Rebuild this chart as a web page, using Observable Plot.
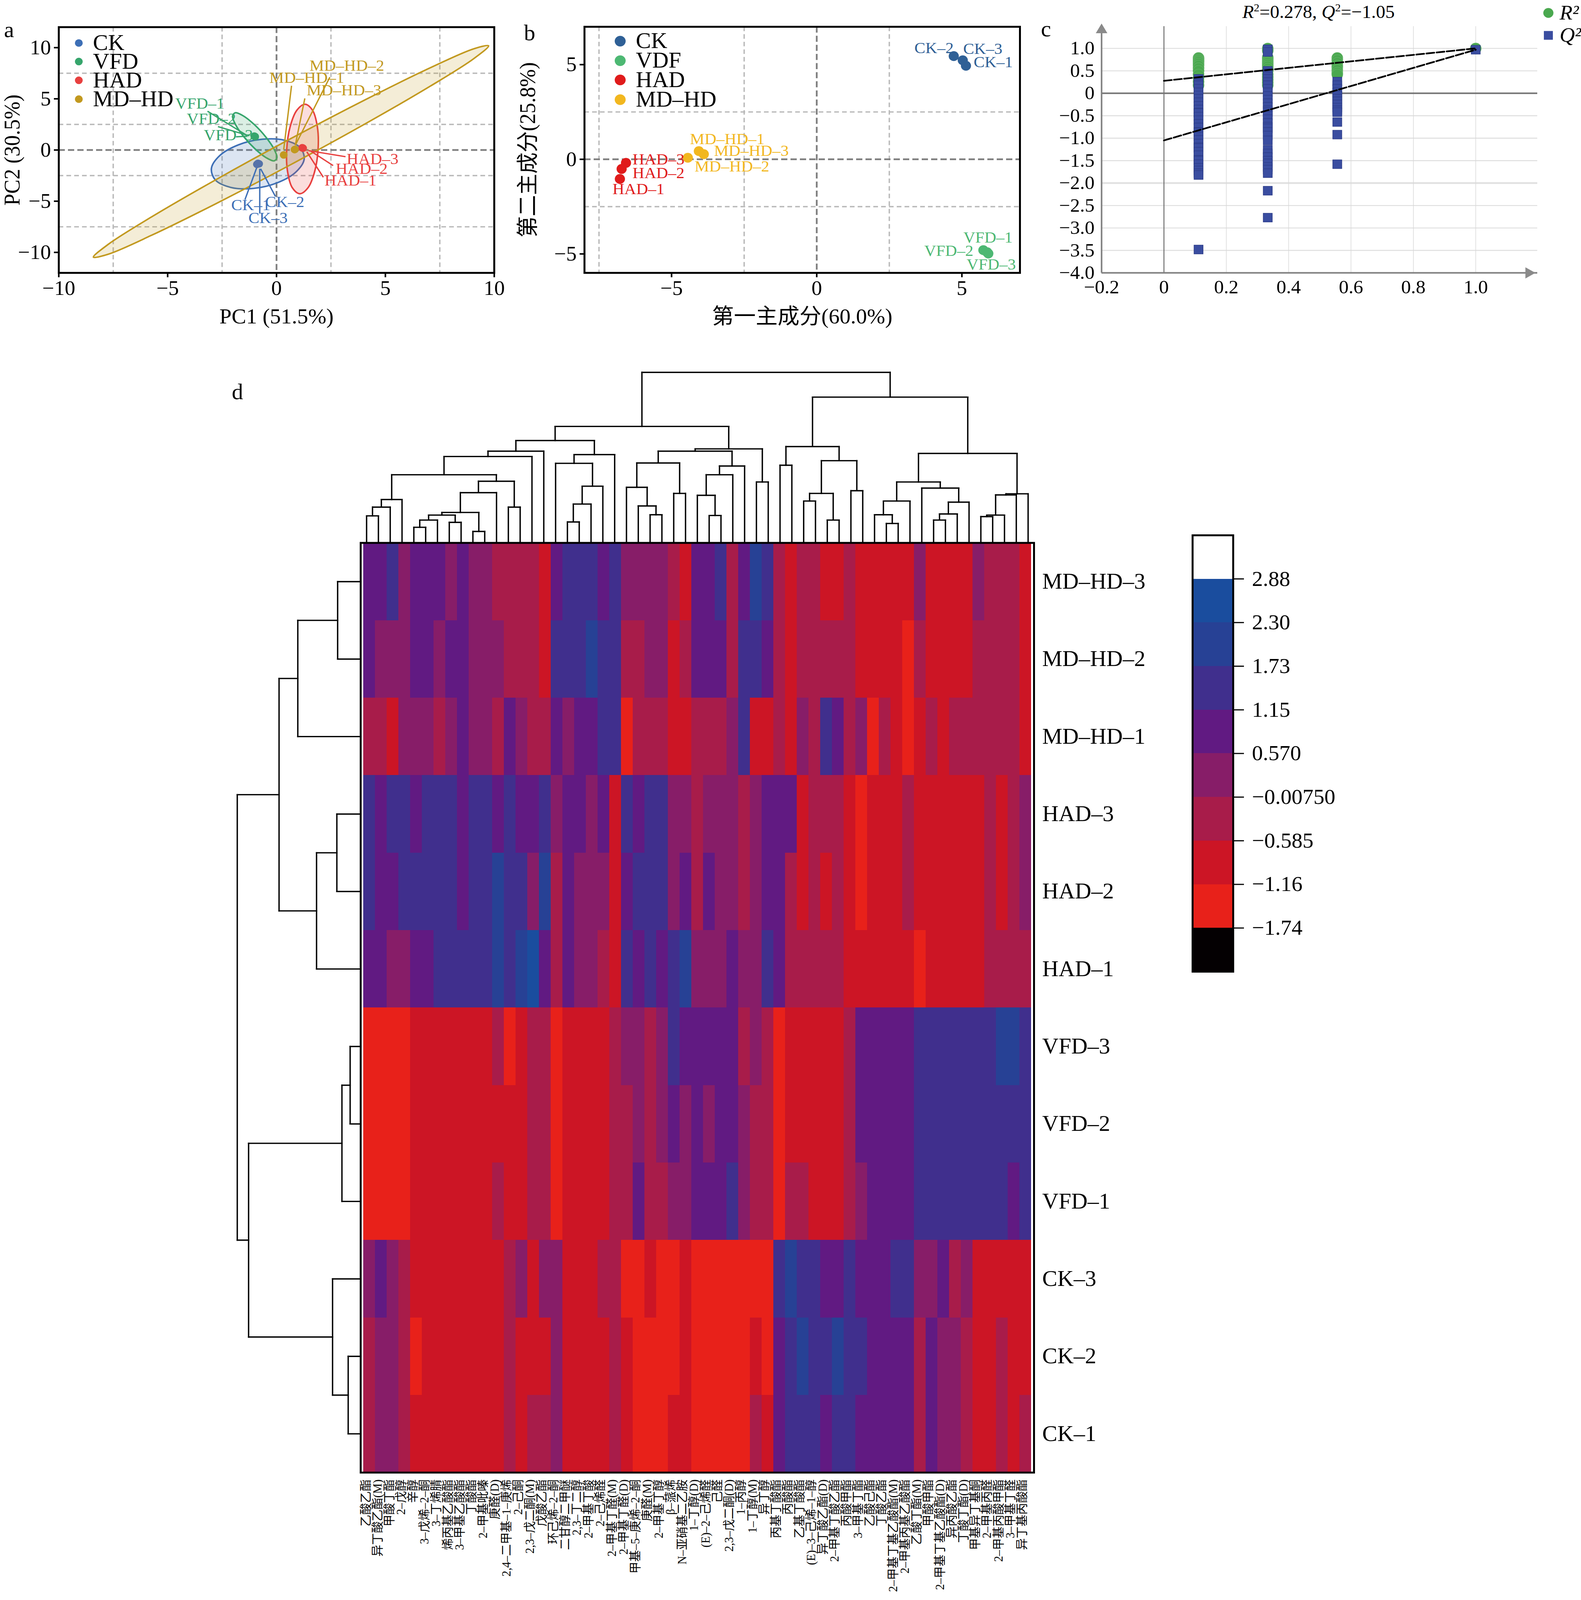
<!DOCTYPE html>
<html>
<head>
<meta charset="utf-8">
<script src="https://cdn.jsdelivr.net/npm/d3@7"></script>
<script src="https://cdn.jsdelivr.net/npm/@observablehq/plot@0.6"></script>
<style>
html,body{margin:0;padding:0;background:#fff}
#viewport{position:relative;width:4048px;overflow:hidden;background:#fff}
#page{position:absolute;left:0;top:0;width:4048px;height:4213px;overflow:hidden;background:#fff;font-family:"Liberation Serif","Noto Sans CJK SC",serif;color:#000;transform-origin:0 0}
.tag{position:absolute;transform:translate(-50%,-50%);font-size:58px;line-height:1}
.title{position:absolute;transform:translate(-50%,-50%);font-size:48px;line-height:1;white-space:nowrap}
.title sup{font-size:.6em;line-height:0}
</style>
</head>
<body>
<div id="viewport"><div id="page"></div></div>
<script>
// ---------- panel a ----------
const aGroups = ["CK","VFD","HAD","MD–HD"];
const aColors = ["#3d6fb6","#36a56c","#e8403f","#c2991f"];
const aDotColors = ["#5572a9","#36a56c","#e8403f","#c2991f"];
const aEllipseCK = [[1.27,-.90],[1.085,.24],[.378,.953],[-.66,1.05],[-1.752,.503],[-2.605,-.54],[-2.99,-1.80],[-2.805,-2.94],[-2.098,-3.653],[-1.06,-3.75],[.032,-3.203],[.885,-2.16]];
const aEllipseVFD = [[-1.89,3.64],[-1.52,3.325],[-1.01,2.465],[-.5,1.29],[-.12,.115],[.02,-.745],[-.11,-1.06],[-.479,-.745],[-.988,.115],[-1.5,1.29],[-1.878,2.465],[-2.021,3.325]];
const aEllipseHAD = [[1.31,4.47],[1.654,3.884],[1.874,2.285],[1.91,.1],[1.754,-2.085],[1.446,-3.684],[1.07,-4.27],[.726,-3.684],[.506,-2.085],[.47,.1],[.626,2.285],[.934,3.884]];
const aEllipseMD = [[9.74,10.18],[9.05,9.88],[7.08,8.05],[4.14,4.98],[.665,1.125],[-2.81,-2.93],[-5.75,-6.55],[-7.72,-9.20],[-8.41,-10.47],[-7.72,-10.17],[-5.75,-8.34],[-2.81,-5.27],[.665,-1.415],[4.14,2.64],[7.08,6.26],[9.05,8.91]];
const aEllipses = [aEllipseCK,aEllipseVFD,aEllipseHAD,aEllipseMD];
const aSamples = ["CK–1","CK–2","CK–3","VFD–1","VFD–2","VFD–3","HAD–1","HAD–2","HAD–3","MD–HD–1","MD–HD–2","MD–HD–3"];
const aSampleGroup = [0,0,0,1,1,1,2,2,2,3,3,3];
const aPC1 = [-.9,-.8,-.85,-1.0,-1.02,-.98,1.2,1.22,1.18,.33,.83,.85];
const aPC2 = [-1.4,-1.35,-1.3,1.33,1.36,1.3,.2,.18,.22,-.48,.04,.06];
const aLabelX = [-1.18,.38,-.39,-3.52,-2.99,-2.21,3.40,3.91,4.41,1.39,3.23,3.10];
const aLabelY = [-5.37,-5.06,-6.62,4.56,3.06,1.46,-2.98,-1.81,-.89,7.08,8.24,5.83];
const aLeaderX1 = [-1.45,-.05,-.77,-3.17,-2.69,-1.86,2.15,2.6,3.17,.69,2.45,1.3];
const aLeaderY1 = [-4.85,-4.54,-6.2,3.79,2.29,1.29,-2.66,-1.52,-.65,6.28,7.12,5.04];
const aLeaderX2 = [-.91,-.73,-.77,-1.33,-1.25,-1.33,1.39,1.54,1.47,.33,.86,.86];
const aLeaderY2 = [-1.73,-1.83,-1.83,1.39,1.39,1.35,-.17,-.06,-.06,.04,.46,.46];
const aLegendY = [10.45,8.64,6.81,4.97];

// ---------- panel b ----------
const bGroups = ["CK","VDF","HAD","MD–HD"];
const bColors = ["#2f6096","#4db873","#e01b1b","#f2b71f"];
const bSamples = ["CK–1","CK–2","CK–3","VFD–1","VFD–2","VFD–3","HAD–1","HAD–2","HAD–3","MD–HD–1","MD–HD–2","MD–HD–3"];
const bSampleGroup = [0,0,0,1,1,1,2,2,2,3,3,3];
const bPC1 = [5.14,4.72,5.03,5.87,5.74,5.91,-6.78,-6.72,-6.57,-4.06,-4.44,-3.89];
const bPC2 = [4.94,5.45,5.23,-4.91,-4.80,-4.98,-1.04,-.51,-.19,.43,.08,.27];
const bLabelX = [6.08,4.04,5.72,5.90,4.55,6.01,-6.14,-5.45,-5.45,-3.08,-2.92,-2.25];
const bLabelY = [5.14,5.88,5.83,-4.12,-4.84,-5.56,-1.58,-.73,0,1.08,-.38,.46];
const bLegendY = [6.24,5.21,4.19,3.15];

// ---------- panel c ----------
const cPermX = [0.111,0.333,0.556,1.0];
const cR2_111 = [.79,.76,.73,.70,.66,.62,.56,.50,.42,.34,.26,.18];
const cR2_333 = [1.0,.95,.80,.76,.72,.68,.64,.60,.55,.50,.42,.36,.30,.24,.18];
const cR2_556 = [.79,.74,.68,.62,.58,.52,.46,.42];
const cR2_100 = [1.0];
const cQ2_111 = [.32,.22,.18,.10,.02,-.05,-.12,-.20,-.28,-.36,-.43,-.44,-.52,-.60,-.68,-.76,-.86,-.87,-.96,-1.04,-1.12,-1.20,-1.22,-1.30,-1.38,-1.48,-1.50,-1.58,-1.66,-1.72,-1.78,-1.82,-3.48];
const cQ2_333 = [.98,.92,.50,.45,.38,.32,.25,.18,.10,.02,-.06,-.14,-.22,-.30,-.38,-.42,-.50,-.58,-.66,-.74,-.78,-.86,-.94,-1.05,-1.26,-1.34,-1.42,-1.50,-1.56,-1.64,-1.70,-1.78,-2.17,-2.77];
const cQ2_556 = [.26,.18,.10,.02,-.05,-.12,-.18,-.25,-.32,-.38,-.42,-.64,-.92,-1.58];
const cQ2_100 = [.97];
const cR2Fit = [[0,.278],[1,1]];
const cQ2Fit = [[0,-1.05],[1,.97]];

// ---------- panel d ----------
const rowNames = ["MD–HD–3","MD–HD–2","MD–HD–1","HAD–3","HAD–2","HAD–1","VFD–3","VFD–2","VFD–1","CK–3","CK–2","CK–1"];
const colNames = ["乙酸乙酯","异丁酸乙酯(M)","甲酸丁酯","2–戊醇","辛醇","3–戊烯–2–酮","3–丁烯腈","烯丙基乙酸酯","3–甲基乙酸酯","丁酸酯","2–甲基吡嗪","庚醛(D)","2,4–二甲基–1–庚烯","2–己酮","2,3–戊二酮(M)","戊酸乙酯","环己烯–2–酮","二甘醇二甲醚","2,3–丁二醇","2–甲基丁酸","2–己烯醛","2–甲基丁醛(M)","2–甲基丁醛(D)","甲基–5–庚烯–2–酮","庚醛(M)","2–甲基丁醇","β–蒎烯","N–亚硝基二乙胺","1–丁醇(D)","(E)–2–己烯醛","己醛","2,3–戊二酮(D)","1–丙醇","1–丁醇(M)","异丁醇","丙基丁酸酯","丙酸酯","乙基丁酸酯","(E)–3–己烯–1–醇","异丁酸乙酯(D)","2–甲基丁酸乙酯","丙酸甲酯","3–甲基丁酯","乙酸己酯","丁酸乙酯","2–甲基丁基乙酸酯(M)","2–甲基丙基乙酸酯","乙酸丁酯(M)","甲酸甲酯","2–甲基丁基乙酸酯(D)","异丙酸乙酯","丁酸丁酯(D)","甲基异丁基酮","2–甲基丙醛","2–甲基丙酸甲酯","3–甲基丁醛","异丁基丙酸酯"];
// band index of each cell (0 = brightest red … 7 = brightest blue)
const rowMD3  = "44534443433 2222 1 4 555 4 5 3333 2 1 4 4 5 2 4 6 5 2 1 22 11 2 11111 3 1111 3 222 1";
const rowMD2  = "4 333 44 3 44 333 222 1 555 6 55 22 33 1 2 4 44 2 55 4 2 1 22222 1111 0 2 1111 2222 1";
const rowMD1  = "22 1 333 2 3 4 33 2 4 3 22 4 3 44 55 0 222 11 2 22 3 5 11 2 1 3 2 5 4 2 3 0 2 1 0 1 2 1 222222 1";
const rowHAD3 = "5 4 55 4 555 4 55 4 5 44 5 3 44 3 4 1 5 4 55 33 2 333 2 3 444 1 222 1 0 111 2 111111 2 1 2 3";
const rowHAD2 = "5 44 55555 4 55 6 55 3 6 2 4 333 1 4 555 3 4 2 4 33 2 3 44 2 1 2 1 2 1 0 111 2 111111 2 1 2 3";
const rowHAD1 = "44 33 44 55555 6 5 6 7 4 2 4 33 2 1 5 4 5 4 5 6 3 33 4 33 5 4 22222 111111 0 11111 2222";
const rowVFD3 = "0000 1111111 2 0 1 22 0 1111 2 33 2 3 5 44 444 2 3 2 0 11111 2 44444 5555555 66 5";
const rowVFD2 = "0000 1111111111 22 0 1111 22 3 2 3 4 3 4 3 44 3 22 0 11111 2 44444 5555555555";
const rowVFD1 = "0000 1111111 2 11 22 0 1111 22 4 22 33 4 44 5 3 22 0 22 111 2 3 4444 55555555 4 5";
const rowCK3  = "3 4 3 2 11111111 2 3 1 33 111 22 00 1 00 1 0 000000 5 6 55 44 5 444 55 33 4 2 3 11111";
const rowCK2  = "2 33 2 0 1111111 2 111 3 1111 2 1 0000 1 0 0000 1 0 4 5 6 55 6 55 4444 2 4 33 2 11 2 11";
const rowCK1  = "2 33 2 11111111 2 1 22 3 1111 2 1 000 11 0 0000 2 1 4 555 4 55 44444 2 4 33 2 11 2 1 2";
const heatRows = [rowMD3,rowMD2,rowMD1,rowHAD3,rowHAD2,rowHAD1,rowVFD3,rowVFD2,rowVFD1,rowCK3,rowCK2,rowCK1];
const bandValues = [-1.45,-0.87,-0.30,0.28,0.86,1.44,2.01,2.59];
const colorTicks = [-1.74,-1.16,-0.585,-0.0075,0.57,1.15,1.73,2.30,2.88];
const colorTickLabels = ["−1.74","−1.16","−0.585","−0.00750","0.570","1.15","1.73","2.30","2.88"];
const colorRange = ["#040002","#e8211a","#cc1525","#a81c4a","#871d68","#611a82","#402f8d","#274195","#1a4d9e","#ffffff"];
const barValues = [-2,-1.45,-0.87,-0.30,0.28,0.86,1.44,2.01,2.59,3.2];
// dendrograms: [height, left, right]; a bare number is a leaf
const colTree = [447,
  [305,
    [268,
      [240,[226,[178,[113,[93,[70,0,1],2],3],[161,[131,[79,[72,[59,[40,4,5],6],[53,7,8]],[29,9,10]],11],[93,12,13]]],14],15],
      [231,[208,16,[148,[101,[54,17,18],19],20]],21]],
    [246,
      [240,[209,[145,22,[96,23,[73,24,25]]],[129,26,27]],[201,[178,[124,28,[71,29,30]],31],32]],
      [159,33,34]]],
  [382,
    [252,[203,35,36],[215,[129,[109,37,38],[59,39,40]],[136,41,42]]],
    [234,
      [159,[109,[73,43,[50,44,45]],46],[143,47,[106,[75,[59,48,49],50],51]]],
      [128,[125,[72,[68,52,53],54],55],56]]]];
const rowTree = [316,
  [209,[161,[59,0,1],2],[113,[61,3,4],5]],
  [287,[48,[27,6,7],8],[72,9,[32,10,11]]]];

// ---------- helpers ----------
const fontStack = '"Liberation Serif","Noto Sans CJK SC",serif';
const page = document.getElementById("page");
// the browser window can be shorter than the 4213px chart: fit the whole chart into what is visible
const fit = Math.min(1, window.innerHeight / 4213);
document.getElementById("viewport").style.height = (4213 * fit) + "px";
page.style.transform = "scale(1," + fit + ")";
const signed = d => String(d).replace("-","−");
function place(left, top, options) {
  const svg = Plot.plot({
    ...options,
    style: {position:"absolute", left:left+"px", top:top+"px", background:"transparent", fontFamily:fontStack, maxWidth:"none", overflow:"hidden"}
  });
  page.appendChild(svg);
  return svg;
}
function tag(text, x, y) {
  const d = document.createElement("div");
  d.className = "tag"; d.textContent = text;
  d.style.left = x+"px"; d.style.top = y+"px";
  page.appendChild(d);
}
function segments(node) {
  const out = [];
  (function walk(n) {
    if (typeof n === "number") return {x:n+.5, h:0};
    const [h,l,r] = n;
    const a = walk(l), b = walk(r);
    out.push({a1:a.x,b1:h,a2:b.x,b2:h},{a1:a.x,b1:h,a2:a.x,b2:a.h},{a1:b.x,b1:h,a2:b.x,b2:b.h});
    return {x:(a.x+b.x)/2, h};
  })(node);
  return out;
}
const gridDash = "12,8";
function pcaGrid(xs, ys) {
  return [
    Plot.ruleX(xs, {stroke:"#b9b9b9", strokeWidth:3.5, strokeDasharray:gridDash}),
    Plot.ruleY(ys, {stroke:"#b9b9b9", strokeWidth:3.5, strokeDasharray:gridDash}),
    Plot.ruleX([0], {stroke:"#808080", strokeWidth:4.5, strokeDasharray:"16,8"}),
    Plot.ruleY([0], {stroke:"#808080", strokeWidth:4.5, strokeDasharray:"16,8"})
  ];
}

// ---------- panel a ----------
const aTable = aSamples.map((name,i)=>({name,g:aSampleGroup[i],x:aPC1[i],y:aPC2[i],lx:aLabelX[i],ly:aLabelY[i],x1:aLeaderX1[i],y1:aLeaderY1[i],x2:aLeaderX2[i],y2:aLeaderY2[i]}));
place(0,0,{
  width:1320,height:880,marginLeft:150,marginRight:55,marginTop:71,marginBottom:162,
  x:{domain:[-10,10]},y:{domain:[-12,12]},
  marks:[
    ...pcaGrid([-7.5,-2.5,2.5,7.5],[-7.5,-2.5,2.5,7.5]),
    ...aEllipses.map((e,i)=>Plot.line(e,{x:d=>d[0],y:d=>d[1],curve:"catmull-rom-closed",stroke:aColors[i],strokeWidth:4,fill:aColors[i],fillOpacity:.18})),
    Plot.link(aTable,{x1:"x1",y1:"y1",x2:"x2",y2:"y2",stroke:d=>aColors[d.g],strokeWidth:3.5}),
    Plot.dot(aTable,{x:"x",y:"y",r:10,fill:d=>aDotColors[d.g]}),
    Plot.text(aTable,{x:"lx",y:"ly",text:"name",fill:d=>aColors[d.g],fontSize:42}),
    Plot.dot(aGroups,{x:()=>-9.08,y:(d,i)=>aLegendY[i],r:10,fill:(d,i)=>aColors[i]}),
    Plot.text(aGroups,{x:()=>-8.43,y:(d,i)=>aLegendY[i],text:d=>d,textAnchor:"start",fontSize:58,fill:"#000"}),
    Plot.axisX({ticks:[-10,-5,0,5,10],tickFormat:signed,tickSize:12,tickPadding:8,fontSize:54,strokeWidth:4,label:null}),
    Plot.axisY({ticks:[-10,-5,0,5,10],tickFormat:signed,tickSize:12,tickPadding:8,fontSize:54,strokeWidth:4,label:null}),
    Plot.text(["PC1 (51.5%)"],{frameAnchor:"bottom",lineAnchor:"middle",dy:115,fontSize:56,fill:"#000"}),
    Plot.text(["PC2 (30.5%)"],{frameAnchor:"left",textAnchor:"middle",dx:-118,rotate:-90,fontSize:56,fill:"#000"}),
    Plot.frame({stroke:"#000",strokeWidth:5})
  ]
});

// ---------- panel b ----------
const bTable = bSamples.map((name,i)=>({name,g:bSampleGroup[i],x:bPC1[i],y:bPC2[i],lx:bLabelX[i],ly:bLabelY[i]}));
place(1300,0,{
  width:1350,height:880,marginLeft:196,marginRight:39,marginTop:70,marginBottom:162,
  x:{domain:[-8,7]},y:{domain:[-6,7]},
  marks:[
    ...pcaGrid([-7.5,-2.5,2.5],[-2.5,2.5]),
    Plot.dot(bTable,{x:"x",y:"y",r:13,fill:d=>bColors[d.g]}),
    Plot.text(bTable,{x:"lx",y:"ly",text:"name",fill:d=>bColors[d.g],fontSize:42}),
    Plot.dot(bGroups,{x:()=>-6.77,y:(d,i)=>bLegendY[i],r:14,fill:(d,i)=>bColors[i]}),
    Plot.text(bGroups,{x:()=>-6.23,y:(d,i)=>bLegendY[i],text:d=>d,textAnchor:"start",fontSize:58,fill:"#000"}),
    Plot.axisX({ticks:[-5,0,5],tickFormat:signed,tickSize:12,tickPadding:8,fontSize:54,strokeWidth:4,label:null}),
    Plot.axisY({ticks:[-5,0,5],tickFormat:signed,tickSize:12,tickPadding:8,fontSize:54,strokeWidth:4,label:null}),
    Plot.text(["第一主成分(60.0%)"],{frameAnchor:"bottom",lineAnchor:"middle",dy:115,fontSize:56,fill:"#000"}),
    Plot.text(["第二主成分(25.8%)"],{frameAnchor:"left",textAnchor:"middle",dx:-144,rotate:-90,fontSize:56,fill:"#000"}),
    Plot.frame({stroke:"#000",strokeWidth:5})
  ]
});

// ---------- panel c ----------
const toPts = (x,ys)=>ys.map(y=>({x,y}));
const cR2 = [...toPts(cPermX[0],cR2_111),...toPts(cPermX[1],cR2_333),...toPts(cPermX[2],cR2_556),...toPts(cPermX[3],cR2_100)];
const cQ2 = [...toPts(cPermX[0],cQ2_111),...toPts(cPermX[1],cQ2_333),...toPts(cPermX[2],cQ2_556),...toPts(cPermX[3],cQ2_100)];
const cFmt = d => d===0 ? "0" : d.toFixed(1).replace("-","−");
place(2640,0,{
  width:1408,height:880,marginLeft:180,marginRight:112,marginTop:69,marginBottom:162,
  x:{domain:[-.2,1.198]},y:{domain:[-4,1.49]},
  marks:[
    Plot.ruleY([-3.5,-3,-2.5,-1.5,-1,-.5,.5,1],{stroke:"#dedede",strokeWidth:2.5}),
    Plot.ruleY([-2],{stroke:"#e2e2e2",strokeWidth:5}),
    Plot.ruleX([.2,.4,.6,.8,1],{stroke:"#d8d8d8",strokeWidth:1.5}),
    Plot.ruleX([0],{stroke:"#707070",strokeWidth:2.5}),
    Plot.ruleY([0],{stroke:"#757575",strokeWidth:4}),
    Plot.ruleX([-.2],{stroke:"#808080",strokeWidth:4}),
    Plot.ruleY([-4],{stroke:"#808080",strokeWidth:4}),
    Plot.dot([[-.2,1.41]],{x:d=>d[0],y:d=>d[1],symbol:"triangle",r:11,fill:"#8a8a8a"}),
    Plot.dot([[1.17,-4]],{x:d=>d[0],y:d=>d[1],symbol:"triangle",r:11,rotate:90,fill:"#8a8a8a"}),
    Plot.dot(cR2,{x:"x",y:"y",r:14,fill:"#4aa84f",stroke:"#5fb163",strokeWidth:1.5}),
    Plot.dot(cQ2,{x:"x",y:"y",symbol:"square",r:13,fill:"#3a4da0",stroke:"#2d3d88",strokeWidth:1.5}),
    Plot.line(cR2Fit,{x:d=>d[0],y:d=>d[1],stroke:"#000",strokeWidth:4.5,strokeDasharray:"20,6"}),
    Plot.line(cQ2Fit,{x:d=>d[0],y:d=>d[1],stroke:"#000",strokeWidth:4.5,strokeDasharray:"20,6"}),
    Plot.dot(["R²"],{x:()=>1.233,y:()=>1.79,r:13,fill:"#4aa84f"}),
    Plot.dot(["Q²"],{x:()=>1.233,y:()=>1.29,symbol:"square",r:13,fill:"#3a4da0"}),
    Plot.text(["R²"],{x:()=>1.269,y:()=>1.79,text:d=>d,textAnchor:"start",fontSize:54,fontStyle:"italic",fill:"#000"}),
    Plot.text(["Q²"],{x:()=>1.269,y:()=>1.29,text:d=>d,textAnchor:"start",fontSize:54,fontStyle:"italic",fill:"#000"}),
    Plot.axisX({ticks:[-.2,0,.2,.4,.6,.8,1],tickFormat:cFmt,tickSize:0,tickPadding:18,fontSize:50,label:null}),
    Plot.axisY({ticks:[-4,-3.5,-3,-2.5,-2,-1.5,-1,-.5,0,.5,1],tickFormat:cFmt,tickSize:0,tickPadding:18,fontSize:50,label:null})
  ]
});
const title = document.createElement("div");
title.className = "title"; title.style.left = "3376px"; title.style.top = "31px";
title.innerHTML = "<i>R</i><sup>2</sup>=0.278, <i>Q</i><sup>2</sup>=−1.05";
page.appendChild(title);

// ---------- panel d: dendrograms ----------
place(923,960,{
  width:1724,height:470,marginLeft:0,marginRight:0,marginTop:20,marginBottom:2,
  x:{domain:[0,57],axis:null},y:{domain:[0,447],axis:null},
  marks:[Plot.link(segments(colTree),{x1:"a1",y1:"b1",x2:"a2",y2:"b2",stroke:"#000",strokeWidth:3.5,strokeLinecap:"square"})]
});
place(590,1429,{
  width:333,height:2448,marginLeft:0,marginRight:0,marginTop:0,marginBottom:0,
  x:{domain:[333,0],axis:null},y:{domain:[12,0],axis:null},
  marks:[Plot.link(segments(rowTree),{y1:"a1",x1:"b1",y2:"a2",x2:"b2",stroke:"#000",strokeWidth:3.5,strokeLinecap:"square"})]
});

// ---------- panel d: heat map ----------
const heat = [];
heatRows.forEach((s,r)=>{
  s.replace(/ /g,"").split("").forEach((ch,c)=>heat.push({row:rowNames[r],col:colNames[c],v:bandValues[+ch]}));
});
const colorOpts = {type:"threshold",domain:colorTicks,range:colorRange};
place(700,1400,{
  width:2300,height:2813,marginLeft:223,marginRight:353,marginTop:29,marginBottom:336,
  x:{domain:colNames,padding:0},y:{domain:rowNames,padding:0},color:colorOpts,
  marks:[
    Plot.cell(heat,{x:"col",y:"row",fill:"v",inset:0,shapeRendering:"crispEdges"}),
    Plot.axisY({anchor:"right",tickSize:0,tickPadding:21,fontSize:58,label:null}),
    Plot.axisX({tickRotate:-90,tickSize:0,tickPadding:18,fontSize:31,label:null,dx:-8}),
    Plot.frame({stroke:"#000",strokeWidth:5})
  ]
});

// ---------- panel d: colour bar ----------
const barBands = barValues.map((v,i)=>({v,lo:i-1,hi:i}));
place(3000,1380,{
  width:1000,height:1210,marginLeft:53,marginRight:843,marginTop:29,marginBottom:32,
  x:{domain:[0,1],axis:null},y:{domain:[-1,9]},color:colorOpts,
  marks:[
    Plot.rect(barBands,{x1:()=>0,x2:()=>1,y1:"lo",y2:"hi",fill:"v",inset:0,shapeRendering:"crispEdges"}),
    Plot.axisY({anchor:"right",ticks:[0,1,2,3,4,5,6,7,8],tickFormat:i=>colorTickLabels[i],tickSize:27,tickPadding:21,fontSize:56,strokeWidth:3,label:null}),
    Plot.frame({stroke:"#000",strokeWidth:5})
  ]
});

tag("a",23,79); tag("b",1356,87); tag("c",2678,77); tag("d",608,1032);
</script>
</body>
</html>
